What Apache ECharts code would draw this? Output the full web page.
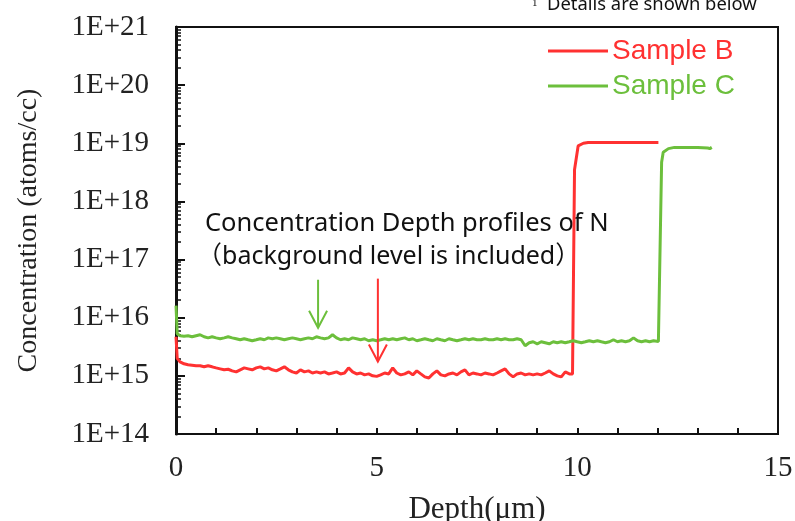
<!DOCTYPE html>
<html>
<head>
<meta charset="utf-8">
<script src="https://cdn.jsdelivr.net/npm/echarts@6/dist/echarts.min.js"></script>
<style>
  html, body { margin: 0; padding: 0; background: #fff; }
  #chart { width: 795px; height: 521px; }
</style>
</head>
<body>
<div id="chart"></div>
<script>
// Depth (um), concentration (atoms/cc)
const sampleB = [
  [0, 4.7e15], [0.03, 2.0e15], [0.1, 1.74e15], [0.2, 1.61e15], [0.3, 1.55e15], [0.4, 1.52e15],
  [0.5, 1.49e15], [0.6, 1.49e15], [0.7, 1.43e15], [0.8, 1.49e15], [0.9, 1.43e15], [1.0, 1.37e15],
  [1.1, 1.32e15], [1.2, 1.27e15], [1.3, 1.30e15], [1.4, 1.22e15], [1.5, 1.17e15], [1.6, 1.27e15],
  [1.7, 1.37e15], [1.8, 1.32e15], [1.9, 1.27e15], [2.0, 1.37e15], [2.1, 1.43e15], [2.2, 1.32e15],
  [2.3, 1.37e15], [2.4, 1.27e15], [2.5, 1.22e15], [2.6, 1.32e15], [2.7, 1.43e15], [2.8, 1.27e15],
  [2.9, 1.17e15], [3.0, 1.12e15], [3.1, 1.27e15], [3.2, 1.17e15], [3.3, 1.22e15], [3.4, 1.12e15],
  [3.5, 1.17e15], [3.6, 1.12e15], [3.7, 1.17e15], [3.8, 1.08e15], [3.9, 1.12e15], [4.0, 1.17e15],
  [4.1, 1.08e15], [4.2, 1.12e15], [4.3, 1.37e15], [4.4, 1.17e15], [4.5, 1.08e15], [4.6, 1.12e15],
  [4.7, 1.04e15], [4.8, 1.08e15], [4.9, 1.0e15], [5.0, 0.98e15], [5.1, 1.04e15], [5.2, 1.12e15],
  [5.3, 1.08e15], [5.4, 1.37e15], [5.5, 1.12e15], [5.6, 1.04e15], [5.7, 1.08e15], [5.8, 1.17e15],
  [5.9, 1.04e15], [6.0, 1.22e15], [6.1, 1.08e15], [6.2, 0.96e15], [6.3, 0.92e15], [6.4, 1.08e15],
  [6.5, 1.22e15], [6.6, 1.04e15], [6.7, 1.0e15], [6.8, 1.08e15], [6.9, 1.12e15], [7.0, 1.04e15],
  [7.1, 1.17e15], [7.2, 1.27e15], [7.3, 1.04e15], [7.4, 1.12e15], [7.5, 1.08e15], [7.6, 1.04e15],
  [7.7, 1.12e15], [7.8, 1.08e15], [7.9, 1.04e15], [8.0, 1.12e15], [8.1, 1.22e15], [8.2, 1.32e15],
  [8.3, 1.08e15], [8.4, 0.96e15], [8.5, 1.08e15], [8.6, 1.12e15], [8.7, 1.04e15], [8.8, 1.08e15],
  [8.9, 1.04e15], [9.0, 1.08e15], [9.1, 1.04e15], [9.2, 1.12e15], [9.3, 1.22e15], [9.4, 1.08e15],
  [9.5, 1.0e15], [9.6, 0.96e15], [9.7, 1.17e15], [9.8, 1.08e15], [9.88, 1.08e15],
  [9.93, 3.5e18], [10.02, 9.0e18], [10.15, 1.0e19], [10.27, 1.03e19], [11.0, 1.03e19], [12.02, 1.03e19]
];

const sampleC = [
  [0, 1.61e16], [0.03, 5.3e15], [0.1, 4.9e15], [0.2, 4.8e15], [0.3, 4.9e15], [0.4, 4.7e15],
  [0.5, 4.9e15], [0.6, 5.1e15], [0.7, 4.7e15], [0.8, 4.5e15], [0.9, 4.7e15], [1.0, 4.5e15],
  [1.1, 4.35e15], [1.2, 4.5e15], [1.3, 4.7e15], [1.4, 4.5e15], [1.5, 4.35e15], [1.6, 4.18e15],
  [1.7, 4.35e15], [1.8, 4.18e15], [1.9, 4.02e15], [2.0, 4.18e15], [2.1, 4.35e15], [2.2, 4.18e15],
  [2.3, 4.5e15], [2.4, 4.35e15], [2.5, 4.5e15], [2.6, 4.35e15], [2.7, 4.18e15], [2.8, 4.35e15],
  [2.9, 4.5e15], [3.0, 4.35e15], [3.1, 4.18e15], [3.2, 4.35e15], [3.3, 4.5e15], [3.4, 4.35e15],
  [3.5, 4.7e15], [3.6, 4.5e15], [3.7, 4.35e15], [3.8, 4.5e15], [3.9, 5.1e15], [4.0, 4.5e15],
  [4.1, 4.18e15], [4.2, 4.35e15], [4.3, 4.18e15], [4.4, 4.5e15], [4.5, 4.35e15], [4.6, 4.18e15],
  [4.7, 4.35e15], [4.8, 4.02e15], [4.9, 4.18e15], [5.0, 4.02e15], [5.1, 4.18e15], [5.2, 4.35e15],
  [5.3, 4.18e15], [5.4, 4.35e15], [5.5, 4.18e15], [5.6, 4.35e15], [5.7, 4.5e15], [5.8, 4.18e15],
  [5.9, 4.35e15], [6.0, 4.02e15], [6.1, 4.18e15], [6.2, 4.35e15], [6.3, 4.18e15], [6.4, 4.02e15],
  [6.5, 4.35e15], [6.6, 4.18e15], [6.7, 4.02e15], [6.8, 4.35e15], [6.9, 4.18e15], [7.0, 4.02e15],
  [7.1, 4.18e15], [7.2, 4.35e15], [7.3, 4.18e15], [7.4, 4.35e15], [7.5, 4.18e15], [7.6, 4.18e15],
  [7.7, 4.35e15], [7.8, 4.18e15], [7.9, 4.18e15], [8.0, 4.35e15], [8.1, 4.18e15], [8.2, 4.35e15],
  [8.3, 4.18e15], [8.4, 4.18e15], [8.5, 4.35e15], [8.6, 4.18e15], [8.7, 3.29e15], [8.8, 3.71e15],
  [8.9, 3.86e15], [9.0, 3.56e15], [9.1, 3.86e15], [9.2, 3.71e15], [9.3, 3.56e15], [9.4, 3.86e15],
  [9.5, 3.71e15], [9.6, 3.86e15], [9.7, 3.71e15], [9.8, 3.86e15], [9.9, 4.02e15], [10.0, 3.86e15],
  [10.1, 3.71e15], [10.2, 3.86e15], [10.3, 4.02e15], [10.4, 3.86e15], [10.5, 4.02e15], [10.6, 3.86e15],
  [10.7, 3.71e15], [10.8, 3.86e15], [10.9, 4.18e15], [11.0, 3.86e15], [11.1, 4.02e15], [11.2, 3.86e15],
  [11.3, 4.02e15], [11.4, 4.5e15], [11.5, 4.02e15], [11.6, 3.86e15], [11.7, 4.02e15], [11.8, 3.86e15],
  [11.9, 4.02e15], [12.02, 3.9e15],
  [12.10, 4.7e18], [12.14, 7.0e18], [12.27, 8.1e18], [12.42, 8.5e18], [13.0, 8.5e18],
  [13.25, 8.3e18], [13.3, 8.1e18], [13.35, 8.5e18]
];

const seriesNames = ['Sample B', 'Sample C'];
const seriesColors = ['#ff3131', '#6cbf3c'];

// annotation arrows: depth, start concentration, tip concentration
const arrowDepth = [3.54, 5.03];
const arrowStart = [4.5e16, 4.7e16];
const arrowTip = [6.7e15, 1.76e15];
const arrowColors = ['#6cbf3c', '#ff3131'];

// minor ticks of the log axis: 2..9 in every decade
const decadeStarts = [1e14, 1e15, 1e16, 1e17, 1e18, 1e19, 1e20];
const minorMultipliers = [2, 3, 4, 5, 6, 7, 8, 9];
const minorTickValues = [];
decadeStarts.forEach(d => minorMultipliers.forEach(m => minorTickValues.push(d * m)));

const serif = '"Liberation Serif", "Times New Roman", serif';
const sans = '"Noto Sans", "Noto Sans CJK JP", sans-serif';

const chart = echarts.init(document.getElementById('chart'));

const option = {
  animation: false,
  backgroundColor: '#fff',
  grid: {
    left: 176, right: 17, top: 27, bottom: 87,
    outerBoundsMode: 'none', containLabel: false,
    show: true, borderColor: '#111', borderWidth: 2, backgroundColor: 'transparent'
  },
  legend: {
    orient: 'vertical',
    left: 548, top: 37, padding: 0,
    icon: 'rect', itemWidth: 60, itemHeight: 3, itemGap: 7,
    textStyle: { fontFamily: '"Liberation Sans", Arial, sans-serif', fontSize: 28, lineHeight: 28, padding: [0, 0, 0, -1] },
    data: [
      { name: seriesNames[0], textStyle: { color: seriesColors[0] } },
      { name: seriesNames[1], textStyle: { color: seriesColors[1] } }
    ]
  },
  xAxis: {
    type: 'value', min: 0, max: 15, interval: 5,
    name: 'Depth(μm)', nameLocation: 'middle', nameGap: 60,
    nameTextStyle: { fontFamily: serif, fontSize: 31, color: '#222' },
    axisLine: { show: true, onZero: false, lineStyle: { color: '#111', width: 2 } },
    axisTick: { show: true, inside: true, length: 6, lineStyle: { color: '#111', width: 2 } },
    minorTick: { show: true, splitNumber: 5, length: 6, lineStyle: { color: '#111', width: 2 } },
    axisLabel: { margin: 20, fontFamily: serif, fontSize: 29, color: '#222' },
    splitLine: { show: false }
  },
  yAxis: [
    {
      type: 'log', logBase: 10, min: 1e14, max: 1e21, interval: 1,
      name: 'Concentration (atoms/cc)', nameLocation: 'middle', nameGap: 133,
      nameTextStyle: { fontFamily: serif, fontSize: 28, color: '#222' },
      axisLine: { show: true, lineStyle: { color: '#111', width: 3 } },
      axisTick: { show: true, inside: true, length: 9, lineStyle: { color: '#111', width: 2 } },
      axisLabel: {
        margin: 27, fontFamily: serif, fontSize: 29, color: '#222',
        showMaxLabel: true, showMinLabel: true, hideOverlap: false,
        formatter: v => '1E+' + Math.round(Math.log10(v))
      },
      splitLine: { show: false }
    },
    {
      type: 'log', logBase: 10, min: 1e14, max: 1e21, position: 'left',
      axisLine: { show: false },
      axisTick: { show: true, inside: true, length: 5, customValues: minorTickValues, lineStyle: { color: '#111', width: 1.5 } },
      axisLabel: { show: false },
      splitLine: { show: false }
    }
  ],
  series: [
    {
      name: seriesNames[0], type: 'line', data: sampleB,
      showSymbol: false, symbol: 'none', color: seriesColors[0],
      lineStyle: { width: 3, color: seriesColors[0] }, z: 3
    },
    {
      name: seriesNames[1], type: 'line', data: sampleC,
      showSymbol: false, symbol: 'none', color: seriesColors[1],
      lineStyle: { width: 3, color: seriesColors[1] }, z: 3
    },
    {
      type: 'custom', name: 'arrows',
      data: arrowDepth.map((d, i) => [d, arrowStart[i], arrowTip[i]]),
      encode: { x: 0, y: [1, 2] },
      z: 4,
      renderItem: (params, api) => {
        const p0 = api.coord([api.value(0), api.value(1)]);
        const p1 = api.coord([api.value(0), api.value(2)]);
        const c = arrowColors[params.dataIndex];
        return {
          type: 'group',
          children: [
            { type: 'line', shape: { x1: p0[0], y1: p0[1], x2: p1[0], y2: p1[1] }, style: { stroke: c, lineWidth: 2 } },
            { type: 'polyline', shape: { points: [[p1[0] - 9, p1[1] - 17], [p1[0], p1[1]], [p1[0] + 9, p1[1] - 17]] },
              style: { stroke: c, lineWidth: 2, fill: null } }
          ]
        };
      }
    }
  ],
  graphic: [
    { type: 'text', x: 205, y: 224, z: 1,
      style: { text: 'Concentration Depth profiles of N', fontFamily: sans, fontSize: 25.5, fill: '#111', verticalAlign: 'middle' } },
    { type: 'text', x: 197, y: 257, z: 1,
      style: { text: '（background level is included）', fontFamily: sans, fontSize: 25, fill: '#111', verticalAlign: 'middle' } },
    { type: 'text', x: 532, y: 3,
      style: { text: '1', fontFamily: serif, fontSize: 11, fill: '#111', verticalAlign: 'middle' } },
    { type: 'text', x: 547, y: 5,
      style: { text: 'Details are shown below', fontFamily: sans, fontSize: 18.4, fill: '#111', verticalAlign: 'middle' } }
  ]
};

chart.setOption(option);
</script>
</body>
</html>
